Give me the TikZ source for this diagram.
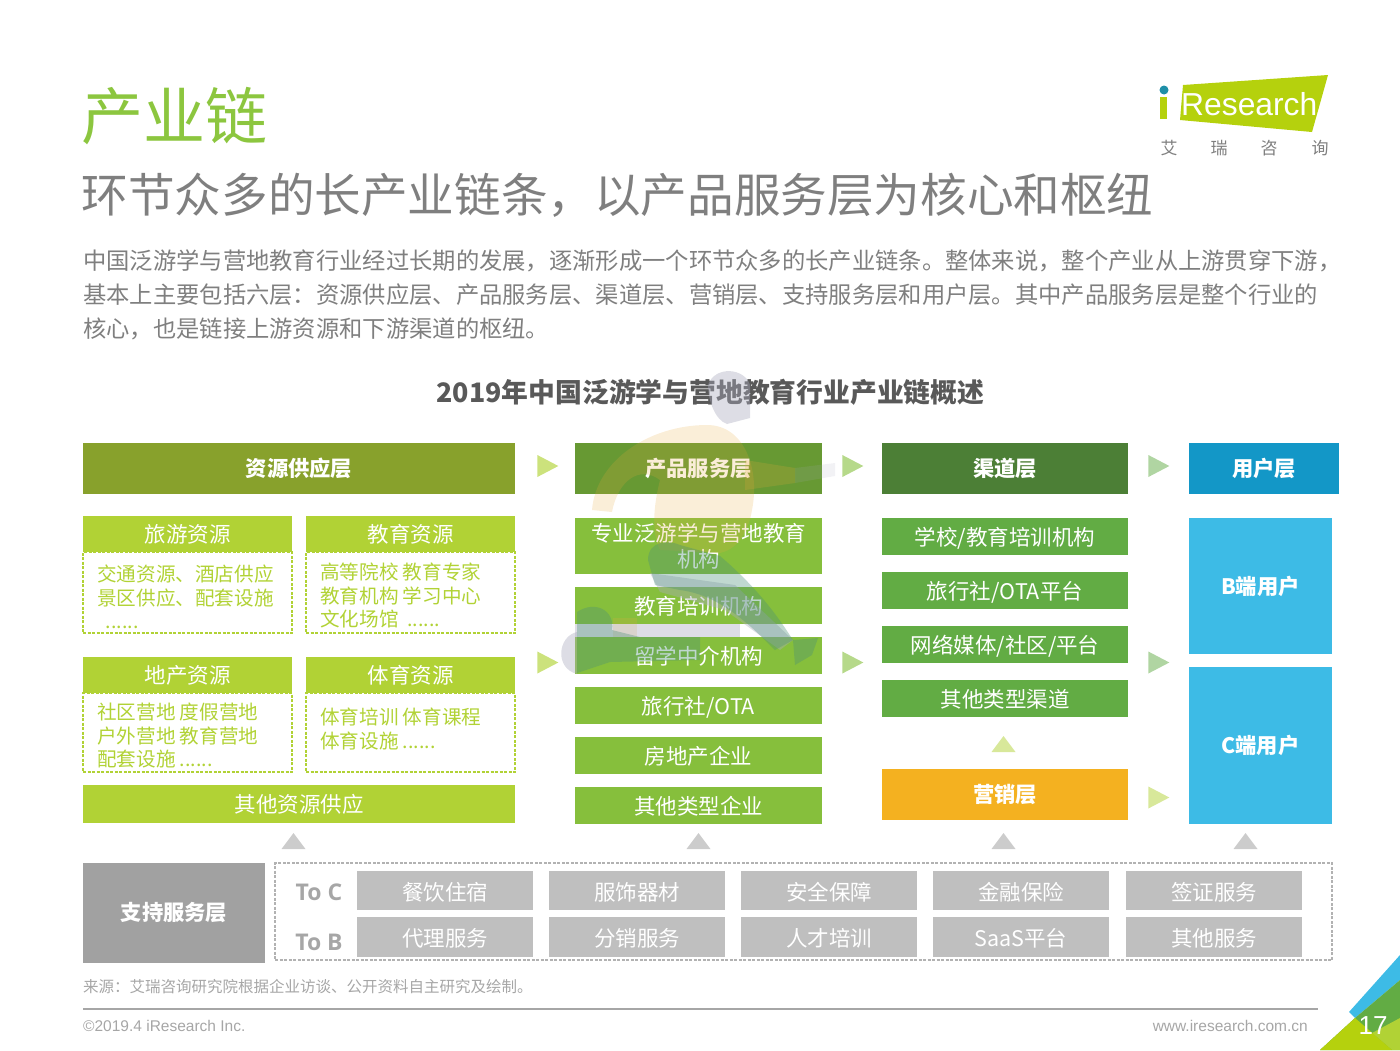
\documentclass[tikz,border=0pt]{standalone}
\usepackage{fontspec}
\usepackage{xcolor}
\usetikzlibrary{positioning, shapes.geometric}
\setmainfont{Noto Sans CJK SC}
\newfontfamily\latinfont{Liberation Sans}
\newfontfamily\openfont{Open Sans}
\definecolor{titlegreen}{HTML}{8CC63F}
\definecolor{textgray}{HTML}{7F7F7F}
\definecolor{lightgray}{HTML}{A6A6A6}
\definecolor{lime}{HTML}{B1D235}
\definecolor{midgreen}{HTML}{86BF3C}
\definecolor{changreen}{HTML}{62AC44}
\definecolor{sky}{HTML}{3DBBE6}
\definecolor{resolive}{HTML}{88A12C}
\definecolor{prodgreen}{HTML}{679933}
\definecolor{chandark}{HTML}{4C7F36}
\definecolor{userblue}{HTML}{1397C7}
\definecolor{mktorange}{HTML}{F4B120}
\definecolor{logolime}{HTML}{B5D10D}
\definecolor{logoteal}{HTML}{1E8FA8}
\definecolor{torso}{HTML}{E8A83C}
\definecolor{trousers}{HTML}{A9ABBD}
\definecolor{shorts}{HTML}{4A8F78}
\tikzset{
    fs/.style 2 args = {font=\fontsize{#1}{#2}\selectfont},
    cell/.style = {inner sep=0pt, outer sep=0pt, align=center, text=white, fs={21.5}{26}},
    layerbox/.style = {cell, font=\fontsize{21.3}{26}\selectfont\bfseries, minimum height=51pt},
    subhead/.style = {cell, fill=lime, minimum width=209pt, minimum height=36pt},
    subbody/.style = {inner sep=0pt, outer sep=0pt, draw=lime, dash pattern=on 3pt off 1.5pt, line width=1.2pt, minimum width=209pt},
    subtext/.style = {inner sep=0pt, anchor=north west, align=left, text=lime, fs={19.6}{23.5}},
    midbox/.style = {cell, fill=midgreen, minimum width=247pt, minimum height=37pt},
    midline/.style = {midbox, text height=20.5pt, text depth=3pt},
    chanbox/.style = {cell, fill=changreen, minimum width=246pt, minimum height=37pt, text height=21pt, text depth=2.5pt},
    userbox/.style = {cell, fill=sky, font=\fontsize{21.3}{26}\selectfont\bfseries, minimum width=143pt},
    svcbox/.style = {cell, fill=black!25, minimum width=176pt, minimum height=39.5pt, text height=22pt, text depth=2.5pt},
    tri_r/.style = {isosceles triangle, isosceles triangle apex angle=55, isosceles triangle stretches,
        inner sep=0pt, outer sep=0pt, minimum width=22pt, minimum height=21pt},
    tri_u/.style = {tri_r, shape border rotate=90, minimum width=24pt, minimum height=16pt},
}
\begin{document}
\begin{tikzpicture}[x=1pt,y=-1pt]
    \useasboundingbox (0,0) rectangle (1400,1050);
    % header
    \node (title) [inner sep=0pt, anchor=west, text=titlegreen, fs={62}{70}] at (81,116) {产业链};
    \node (subtitle) [inner sep=0pt, anchor=west, text=textgray, fs={46.6}{52}] at (81.5,195) {环节众多的长产业链条，以产品服务层为核心和枢纽};
    \node (intro) [inner sep=0pt, anchor=north west, align=left, text=textgray, fs={23.3}{34}] at (83,250)
        {中国泛游学与营地教育行业经过长期的发展，逐渐形成一个环节众多的长产业链条。整体来说，整个产业从上游贯穿下游，\\
         基本上主要包括六层：资源供应层、产品服务层、渠道层、营销层、支持服务层和用户层。其中产品服务层是整个行业的\\
         核心，也是链接上游资源和下游渠道的枢纽。};
    \node (chart) [inner sep=0pt, text=black!65, font=\fontsize{26.8}{32}\selectfont\bfseries] at (710.5,392) {2019年中国泛游学与营地教育行业产业链概述};
    % logo
    \fill[logolime] (1183,85) -- (1328,75) -- (1312,132) -- (1180,120) -- cycle;
    \fill[logolime] (1160,97) rectangle (1167,119);
    \fill[logoteal] (1164,90) circle (4.5);
    \node (logo) [inner sep=0pt, anchor=west, text=white, font=\latinfont\fontsize{31.8}{36}\selectfont] at (1181,104) {Research};
    \foreach \x/\t/\n in {1169/艾/ai, 1219/瑞/rui, 1269/咨/zi, 1320/询/xun}
        \node (\n) [inner sep=0pt, text=textgray, fs={17}{20}] at (\x,148) {\t};
    % layer headers
    \node (res) [layerbox, fill=resolive, minimum width=432pt] at (299,468.5) {资源供应层};
    \node (prod) [layerbox, fill=prodgreen, minimum width=247pt] at (698.5,468.5) {产品服务层};
    \node (chan) [layerbox, fill=chandark, minimum width=246pt] at (1005,468.5) {渠道层};
    \node (user) [layerbox, fill=userblue, minimum width=150pt] at (1264,468.5) {用户层};
    % resource column
    \node (tour) [subhead] at (187.5,534) {旅游资源};
    \node (tourb) [subbody, minimum height=81pt, below=0pt of tour] {};
    \node (edu) [subhead] at (410.5,534) {教育资源};
    \node (edub) [subbody, minimum height=81pt, below=0pt of edu] {};
    \node (land) [subhead] at (187.5,675) {地产资源};
    \node (landb) [subbody, minimum height=79pt, below=0pt of land] {};
    \node (sport) [subhead] at (410.5,675) {体育资源};
    \node (sportb) [subbody, minimum height=79pt, below=0pt of sport] {};
    \node (tourt) [subtext] at (97,565) {交通资源、酒店供应\\景区供应、配套设施\\\ \ ......};
    \node (edut) [subtext] at (320,563) {高等院校 教育专家\\教育机构 学习中心\\文化场馆 \ ......};
    \node (landt) [subtext] at (97,703) {社区营地 度假营地\\户外营地 教育营地\\配套设施 ......};
    \node (sportt) [subtext] at (320,708) {体育培训 体育课程\\体育设施 ......};
    \node (other) [cell, fill=lime, minimum width=432pt, minimum height=38pt] at (299,804) {其他资源供应};
    % product column
    \node (p1) [midbox, minimum height=56pt] at (698.5,546) {专业泛游学与营地教育\\机构};
    \node (p2) [midline, below=13pt of p1] {教育培训机构};
    \node (p3) [midline, below=13pt of p2] {留学中介机构};
    \node (p4) [midline, below=13pt of p3] {旅行社/OTA};
    \node (p5) [midline, below=13pt of p4] {房地产企业};
    \node (p6) [midline, below=13pt of p5] {其他类型企业};
    % channel column
    \node (c1) [chanbox] at (1005,536.5) {学校/教育培训机构};
    \node (c2) [chanbox, below=17pt of c1] {旅行社/OTA平台};
    \node (c3) [chanbox, below=17pt of c2] {网络媒体/社区/平台};
    \node (c4) [chanbox, below=17pt of c3] {其他类型渠道};
    \node (mkt) [layerbox, fill=mktorange, minimum width=246pt] at (1005,794.5) {营销层};
    % users
    \node (ub) [userbox, minimum height=136pt] at (1260.5,586) {B端用户};
    \node (uc) [userbox, minimum height=157pt] at (1260.5,745.5) {C端用户};
    % support layer
    \node (sup) [layerbox, fill=black!37, minimum width=182pt, minimum height=100pt] at (174,913) {支持服务层};
    \node (supb) [subbody, draw=black!30, minimum width=1057pt, minimum height=97pt] at (803.5,911.5) {};
    \node (toc) [inner sep=0pt, text=lightgray, font=\openfont\bfseries\fontsize{23}{26}\selectfont] at (319,892) {To C};
    \node (tob) [inner sep=0pt, text=lightgray, font=\openfont\bfseries\fontsize{23}{26}\selectfont] at (319,942) {To B};
    \foreach \n/\x/\a/\b in {1/445/餐饮住宿/代理服务, 2/637/服饰器材/分销服务, 3/829/安全保障/人才培训, 4/1021/金融保险/SaaS平台, 5/1214/签证服务/其他服务} {
        \node (sa\n) [svcbox] at (\x,890.5) {\a};
        \node (sb\n) [svcbox] at (\x,937) {\b};
    }
    % triangles
    \node (t1) [tri_r, fill=lime!65] at (544,466) {};
    \node (t2) [tri_r, fill=midgreen!60] at (849,466) {};
    \node (t3) [tri_r, fill=changreen!50] at (1155,466) {};
    \node (t4) [tri_r, fill=lime!65] at (544,662.5) {};
    \node (t5) [tri_r, fill=midgreen!60] at (849,662.5) {};
    \node (t6) [tri_r, fill=changreen!50] at (1155,662.5) {};
    \node (t7) [tri_r, fill=lime!50] at (1155,797.5) {};
    \node (t8) [tri_u, fill=lime!50] at (1003.5,746) {};
    \foreach \n/\x in {a/293.5, b/698.5, c/1003.5, d/1245.5}
        \node (u\n) [tri_u, fill=black!20] at (\x,843) {};
    % figure behind the chart
    \begin{scope}[opacity=0.2]
        \fill[torso] (592,510) .. controls (596,460) and (650,425) .. (707,425) .. controls (745,425) and (760,470) .. (752,510) .. controls (748,535) and (735,550) .. (720,553) -- (660,550) .. controls (650,530) and (655,500) .. (660,480) .. controls (640,465) and (618,480) .. (612,512) -- cycle;
        \fill[torso] (613,618) rectangle (637,637);
        \fill[torso] (745,460) -- (795,468) -- (795,483) -- (745,490) -- cycle;
    \end{scope}
    \begin{scope}[opacity=0.4]
        \fill[trousers] (708,385) .. controls (715,365) and (745,368) .. (750,385) -- (750,418) -- (727,424) .. controls (715,420) and (708,400) .. (708,385) -- cycle;
        \fill[trousers] (650,573) -- (735,585) -- (793,640) -- (780,650) -- (725,610) -- (660,592) -- cycle;
        \fill[trousers] (575,624) -- (740,624) -- (740,637) -- (575,637) -- cycle;
        \fill[trousers] (577,632) .. controls (558,636) and (554,668) .. (577,674) -- cycle;
    \end{scope}
    \begin{scope}[opacity=0.15]
        \fill[trousers] (795,468) -- (835,463) -- (835,476) -- (795,483) -- cycle;
    \end{scope}
    \begin{scope}[opacity=0.35]
        \fill[shorts] (648,560) .. controls (648,540) and (670,540) .. (680,545) -- (720,556) .. controls (760,590) and (780,620) .. (793,640) -- (775,650) .. controls (750,625) and (720,595) .. (680,590) -- (655,585) -- cycle;
        \fill[shorts] (577,612) .. controls (595,600) and (615,610) .. (612,630) -- (640,637) -- (700,637) -- (700,660) -- (610,662) -- (577,673) -- cycle;
        \fill[shorts] (793,640) -- (818,638) -- (812,655) -- (795,665) -- cycle;
    \end{scope}
    % footer
    \node (source) [inner sep=0pt, anchor=west, text=lightgray, fs={15.5}{18}] at (83,987) {来源：艾瑞咨询研究院根据企业访谈、公开资料自主研究及绘制。};
    \coordinate (rulea) at (83,1009);
    \coordinate (ruleb) at (1318,1009);
    \draw[lightgray, line width=2.5pt] (rulea) -- (ruleb);
    \node (copy) [inner sep=0pt, anchor=west, text=lightgray, font=\latinfont\fontsize{15.5}{18}\selectfont] at (83,1026) {©2019.4 iResearch Inc.};
    \node (web) [inner sep=0pt, anchor=east, text=lightgray, font=\latinfont\fontsize{15.5}{18}\selectfont] at (1308,1026) {www.iresearch.com.cn};
    % page corner
    \fill[sky] (1349,1012) -- (1400,955) -- (1400,980) -- (1355,1018) -- cycle;
    \fill[changreen] (1355,1018) -- (1400,980) -- (1400,1050) -- (1320,1050) -- cycle;
    \fill[lime] (1400,1018) -- (1372,1033) -- (1392,1050) -- (1400,1050) -- cycle;
    \fill[logolime] (1320,1050) -- (1355,1018) -- (1392,1050) -- cycle;
    \node (page) [inner sep=0pt, text=white, font=\latinfont\fontsize{26}{28}\selectfont] at (1373,1026) {17};
\end{tikzpicture}
\end{document}
